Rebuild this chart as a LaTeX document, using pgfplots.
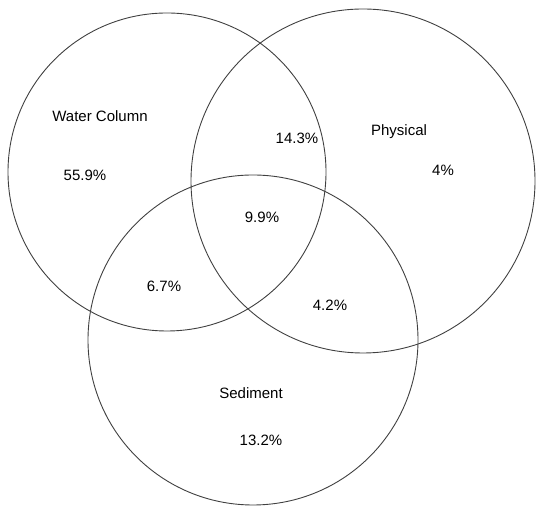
\documentclass[border=0pt]{standalone}
\usepackage{pgfplots}
\pgfplotsset{compat=1.18}
\usepackage{fontspec}
\setmainfont{Liberation Sans}

\tikzset{lbl/.style={font=\fontsize{15}{18}\selectfont, anchor=base, inner sep=0pt}}

\begin{document}
\begin{tikzpicture}
\begin{axis}[
    hide axis,
    scale only axis,
    width=536pt, height=508pt,
    xmin=0, xmax=536, ymin=0, ymax=508,
]
    % keep the full frame as the picture's size
    \path (axis cs:0,0) rectangle (axis cs:536,508);

    % circles: centre and radius in picture units
    \draw[black!75, line width=0.9pt] (axis cs:167,336) circle [radius=159]; % Water Column
    \draw[black!75, line width=0.9pt] (axis cs:363,327) circle [radius=172]; % Physical
    \draw[black!75, line width=0.9pt] (axis cs:253,168) circle [radius=165]; % Sediment

    % labels
    \node[lbl] at (axis cs:100,386.5) {Water Column};
    \node[lbl] at (axis cs:85,327.5)  {55.9\%};
    \node[lbl] at (axis cs:297,364.5) {14.3\%};
    \node[lbl] at (axis cs:399,372.5) {Physical};
    \node[lbl] at (axis cs:443,332.5) {4\%};
    \node[lbl] at (axis cs:262,285.5) {9.9\%};
    \node[lbl] at (axis cs:164,216.5) {6.7\%};
    \node[lbl] at (axis cs:330,197.5) {4.2\%};
    \node[lbl] at (axis cs:251,109.5) {Sediment};
    \node[lbl] at (axis cs:261,62.5)  {13.2\%};
\end{axis}
\end{tikzpicture}
\end{document}
